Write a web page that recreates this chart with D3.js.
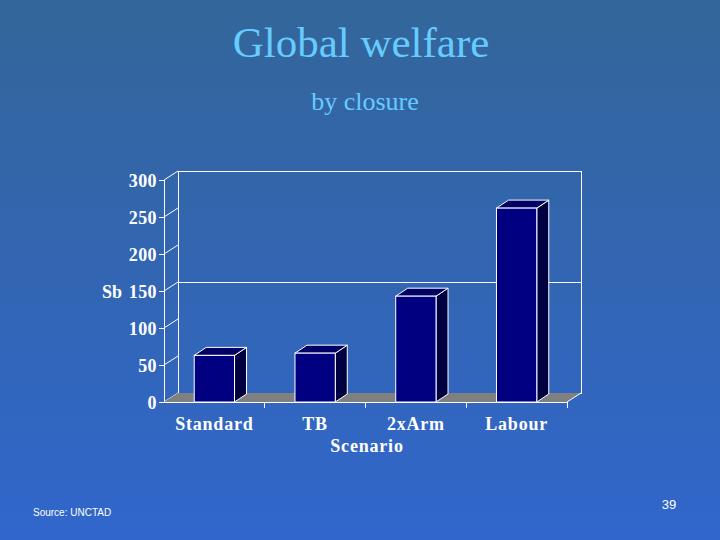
<!DOCTYPE html>
<html>
<head>
<meta charset="utf-8">
<title>Global welfare</title>
<script type="text/javascript" src="https://cdn.jsdelivr.net/npm/d3@7"></script>
<style>
  * { margin: 0; padding: 0; }
  body { width: 720px; height: 540px; overflow: hidden; }
</style>
</head>
<body>
<div id="chart"></div>
<script type="text/javascript">
// chart data
var scenarios = ['Standard', 'TB', '2xArm', 'Labour'];
var welfare = [63, 66, 143, 262];
var yTicks = [0, 50, 100, 150, 200, 250, 300];
var gridValues = [150];

var W = 720, H = 540;
var svg = d3.select('#chart').append('svg')
    .attr('width', W)
    .attr('height', H);

// slide background
var defs = svg.append('defs');
var grad = defs.append('linearGradient')
    .attr('id', 'bg').attr('x1', 0).attr('y1', 0).attr('x2', 0).attr('y2', 1);
grad.append('stop').attr('offset', '0%').attr('stop-color', '#336699');
grad.append('stop').attr('offset', '100%').attr('stop-color', '#3166cc');
svg.append('rect').attr('width', W).attr('height', H).attr('fill', 'url(#bg)');

// titles
svg.append('text')
    .attr('x', 361).attr('y', 57)
    .attr('text-anchor', 'middle')
    .attr('font-family', 'Liberation Serif, Times New Roman, serif')
    .attr('font-size', 43)
    .attr('fill', '#66ccff')
    .text('Global welfare');
svg.append('text')
    .attr('x', 365).attr('y', 110)
    .attr('text-anchor', 'middle')
    .attr('font-family', 'Liberation Serif, Times New Roman, serif')
    .attr('font-size', 26)
    .attr('fill', '#66ccff')
    .text('by closure');

// scales
var x0 = 164, x1 = 567;
var depth = {dx: 14, dy: -9};
var bdepth = {dx: 12, dy: -8};
var x = d3.scaleBand().domain(scenarios).range([x0, x1]).padding(0);
var y = d3.scaleLinear().domain([0, 300]).range([402, 180]);
var barW = x.bandwidth() * 0.4;

var g = svg.append('g');
var white = '#ffffff';
var lblFont = 'Liberation Serif, Times New Roman, serif';

// back wall
g.append('rect')
    .attr('x', x0 + depth.dx).attr('y', y(300) + depth.dy)
    .attr('width', x1 - x0).attr('height', y(0) - y(300))
    .attr('fill', 'none').attr('stroke', white).attr('stroke-width', 1)
    .attr('shape-rendering', 'crispEdges');

gridValues.forEach(function(v) {
  g.append('line')
      .attr('x1', x0 + depth.dx).attr('x2', x1 + depth.dx)
      .attr('y1', y(v) + depth.dy).attr('y2', y(v) + depth.dy)
      .attr('stroke', white).attr('stroke-width', 1)
      .attr('shape-rendering', 'crispEdges');
});

// side wall diagonals at each tick
yTicks.forEach(function(v) {
  g.append('line')
      .attr('x1', x0).attr('y1', y(v))
      .attr('x2', x0 + depth.dx).attr('y2', y(v) + depth.dy)
      .attr('stroke', white).attr('stroke-width', 1);
});

// floor
var floorPts = [[x0, y(0)], [x1, y(0)], [x1 + depth.dx, y(0) + depth.dy], [x0 + depth.dx, y(0) + depth.dy]];
g.append('polygon')
    .attr('points', floorPts.map(function(p) { return p.join(','); }).join(' '))
    .attr('fill', '#808080').attr('stroke', 'none');
g.append('line')
    .attr('x1', x1).attr('y1', y(0))
    .attr('x2', x1 + depth.dx).attr('y2', y(0) + depth.dy)
    .attr('stroke', white);

// y axis
var yAxis = d3.axisLeft(y).tickValues(yTicks).tickSize(5).tickPadding(2);
var ya = g.append('g').attr('transform', 'translate(' + x0 + ',0)').call(yAxis);
ya.select('.domain').attr('stroke', white).attr('shape-rendering', 'crispEdges');
ya.selectAll('.tick line').attr('stroke', white).attr('shape-rendering', 'crispEdges');
ya.selectAll('.tick text')
    .attr('fill', white)
    .attr('font-family', lblFont)
    .attr('font-weight', 'bold')
    .attr('font-size', 18)
    .attr('letter-spacing', 0.4)
    .attr('dy', '0.36em');

// x axis
var xAxis = d3.axisBottom(x).tickSize(0).tickPadding(15);
var xa = g.append('g').attr('transform', 'translate(0,' + y(0) + ')').call(xAxis);
xa.select('.domain').remove();
xa.append('line').attr('x1', x0).attr('x2', x1).attr('y1', 0).attr('y2', 0)
    .attr('stroke', white).attr('shape-rendering', 'crispEdges');
scenarios.forEach(function(s) {
  xa.append('line')
      .attr('x1', x(s) + x.bandwidth()).attr('x2', x(s) + x.bandwidth())
      .attr('y1', 0).attr('y2', 6)
      .attr('stroke', white).attr('shape-rendering', 'crispEdges');
});
xa.selectAll('.tick text')
    .attr('fill', white)
    .attr('font-family', lblFont)
    .attr('font-weight', 'bold')
    .attr('font-size', 18)
    .attr('letter-spacing', 0.8);

// axis titles
svg.append('text')
    .attr('x', 112).attr('y', 298)
    .attr('text-anchor', 'middle')
    .attr('font-family', lblFont)
    .attr('font-weight', 'bold')
    .attr('font-size', 18)
    .attr('fill', white)
    .text('Sb');
svg.append('text')
    .attr('x', 367).attr('y', 452)
    .attr('text-anchor', 'middle')
    .attr('font-family', lblFont)
    .attr('font-weight', 'bold')
    .attr('font-size', 18)
    .attr('letter-spacing', 0.8)
    .attr('fill', white)
    .text('Scenario');

// 3d bars
var bars = g.selectAll('.bar')
    .data(scenarios.map(function(s, i) { return {name: s, value: welfare[i]}; }))
  .enter().append('g').attr('class', 'bar');

function pts(arr) {
  return arr.map(function(p) { return p.join(','); }).join(' ');
}

bars.append('polygon')
    .attr('points', function(d) {
      var l = x(d.name) + (x.bandwidth() - barW) / 2, r = l + barW;
      return pts([[r, y(d.value)], [r + bdepth.dx, y(d.value) + bdepth.dy],
                  [r + bdepth.dx, y(0) + bdepth.dy], [r, y(0)]]);
    })
    .attr('fill', '#000040').attr('stroke', white).attr('stroke-width', 1);

bars.append('polygon')
    .attr('points', function(d) {
      var l = x(d.name) + (x.bandwidth() - barW) / 2, r = l + barW;
      return pts([[l, y(d.value)], [l + bdepth.dx, y(d.value) + bdepth.dy],
                  [r + bdepth.dx, y(d.value) + bdepth.dy], [r, y(d.value)]]);
    })
    .attr('fill', '#000066').attr('stroke', white).attr('stroke-width', 1);

bars.append('rect')
    .attr('x', function(d) { return x(d.name) + (x.bandwidth() - barW) / 2; })
    .attr('y', function(d) { return y(d.value); })
    .attr('width', barW)
    .attr('height', function(d) { return y(0) - y(d.value); })
    .attr('fill', '#000080').attr('stroke', white).attr('stroke-width', 1);

// footer
svg.append('text')
    .attr('x', 33).attr('y', 516)
    .attr('font-family', 'Liberation Sans, Arial, sans-serif')
    .attr('font-size', 10)
    .attr('fill', white)
    .text('Source: UNCTAD');
svg.append('text')
    .attr('x', 669).attr('y', 509)
    .attr('text-anchor', 'middle')
    .attr('font-family', 'Liberation Sans, Arial, sans-serif')
    .attr('font-size', 13)
    .attr('fill', white)
    .text('39');
</script>
</body>
</html>
